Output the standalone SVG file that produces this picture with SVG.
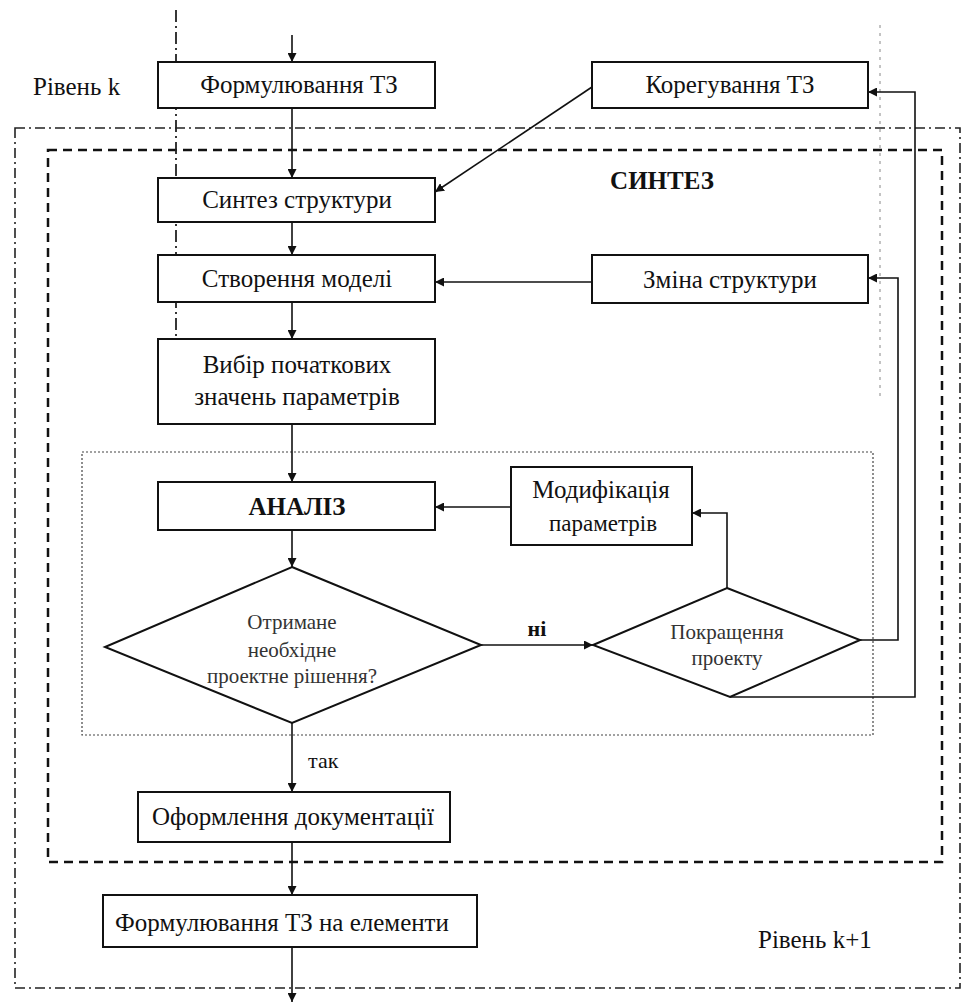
<svg xmlns="http://www.w3.org/2000/svg" width="965" height="1005" viewBox="0 0 965 1005">
<style>
.box{fill:#fff;stroke:#111;stroke-width:2}
.t{font-family:"Liberation Serif","Times New Roman",serif;font-size:25px;fill:#111;text-anchor:middle}
.ts{font-family:"Liberation Serif","Times New Roman",serif;font-size:21px;fill:#333;text-anchor:middle}
.b{font-weight:bold}
.c{fill:none;stroke:#111;stroke-width:1.6}
.frame1{fill:none;stroke:#222;stroke-width:1.6;stroke-dasharray:10 4 2 4}
.frame2{fill:none;stroke:#111;stroke-width:2.5;stroke-dasharray:9 6}
.frame3{fill:none;stroke:#444;stroke-width:1.2;stroke-dasharray:2 2}
</style>
<defs>
<marker id="ah" viewBox="0 0 10 10" refX="10" refY="5" markerWidth="9" markerHeight="9" markerUnits="userSpaceOnUse" orient="auto">
<path d="M0,0 L10,5 L0,10 z" fill="#111"/>
</marker>
</defs>
<rect width="965" height="1005" fill="#fff"/>
<g id="frames">
<rect class="frame1" x="15" y="128" width="945" height="860"/>
<rect class="frame2" x="48" y="150" width="894" height="712"/>
<rect class="frame3" x="82" y="452" width="791" height="283"/>
<line x1="176" y1="10" x2="176" y2="405" stroke="#222" stroke-width="1.8" stroke-dasharray="12 4 2 4"/>
<line x1="880" y1="25" x2="880" y2="400" stroke="#888" stroke-width="1" stroke-dasharray="3 5"/>
</g>
<g id="labels">
<text class="t" x="33" y="95" style="text-anchor:start">Рівень k</text>
<text class="t" x="758" y="948" style="text-anchor:start">Рівень k+1</text>
<text class="t b" x="662" y="189">СИНТЕЗ</text>
</g>
<g id="connectors">
<line class="c" x1="292" y1="35" x2="292" y2="62" marker-end="url(#ah)"/>
<line class="c" x1="292" y1="108" x2="292" y2="178" marker-end="url(#ah)"/>
<line class="c" x1="292" y1="222" x2="292" y2="255" marker-end="url(#ah)"/>
<line class="c" x1="292" y1="302" x2="292" y2="339" marker-end="url(#ah)"/>
<line class="c" x1="292" y1="424" x2="292" y2="482" marker-end="url(#ah)"/>
<line class="c" x1="292" y1="530" x2="292" y2="567" marker-end="url(#ah)"/>
<line class="c" x1="481" y1="645" x2="593" y2="645" marker-end="url(#ah)"/>
<polyline class="c" points="727,588 727,513 692,513" marker-end="url(#ah)"/>
<line class="c" x1="511" y1="507" x2="435" y2="507" marker-end="url(#ah)"/>
<polyline class="c" points="860,640 898,640 898,278 868,278" marker-end="url(#ah)"/>
<polyline class="c" points="730,697 915,697 915,92 868,92" marker-end="url(#ah)"/>
<line class="c" x1="592" y1="282" x2="435" y2="282" marker-end="url(#ah)"/>
<line class="c" x1="592" y1="87" x2="435" y2="192" marker-end="url(#ah)"/>
<line class="c" x1="292" y1="723" x2="292" y2="792" marker-end="url(#ah)"/>
<line class="c" x1="292" y1="842" x2="292" y2="895" marker-end="url(#ah)"/>
<line class="c" x1="292" y1="947" x2="292" y2="1002" marker-end="url(#ah)"/>
<text class="t b" x="537" y="636" style="font-size:22px">ні</text>
<text class="t" x="308" y="768" style="text-anchor:start;font-size:22px">так</text>
</g>
<g id="n1"><rect class="box" x="158" y="62" width="277" height="46"/><text class="t" x="299" y="93">Формулювання ТЗ</text></g>
<g id="n2"><rect class="box" x="592" y="62" width="276" height="46"/><text class="t" x="730" y="93">Корегування ТЗ</text></g>
<g id="n3"><rect class="box" x="158" y="178" width="277" height="44"/><text class="t" x="297" y="208">Синтез структури</text></g>
<g id="n4"><rect class="box" x="158" y="255" width="277" height="47"/><text class="t" x="297" y="287">Створення моделі</text></g>
<g id="n5"><rect class="box" x="592" y="255" width="276" height="48"/><text class="t" x="730" y="288">Зміна структури</text></g>
<g id="n6"><rect class="box" x="158" y="339" width="277" height="85"/><text class="t" x="297" y="373">Вибір початкових</text><text class="t" x="297" y="405">значень параметрів</text></g>
<g id="n7"><rect class="box" x="158" y="482" width="277" height="48"/><text class="t b" x="297" y="515">АНАЛІЗ</text></g>
<g id="n8"><rect class="box" x="511" y="467" width="181" height="78"/><text class="t" x="601" y="498">Модифікація</text><text class="t" x="603" y="531" style="font-size:23px">параметрів</text></g>
<g id="n9"><polygon class="box" points="292,567 481,645 292,723 105,647"/><text class="ts" x="292" y="629">Отримане</text><text class="ts" x="292" y="657">необхідне</text><text class="ts" x="292" y="683">проектне рішення?</text></g>
<g id="n10"><polygon class="box" points="727,588 860,640 730,697 593,645"/><text class="ts" x="727" y="639">Покращення</text><text class="ts" x="727" y="665">проекту</text></g>
<g id="n11"><rect class="box" x="138" y="792" width="312" height="50"/><text class="t" x="293" y="825">Оформлення документації</text></g>
<g id="n12"><rect class="box" x="103" y="895" width="374" height="52"/><text class="t" x="282" y="931">Формулювання ТЗ на елементи</text></g>
</svg>
